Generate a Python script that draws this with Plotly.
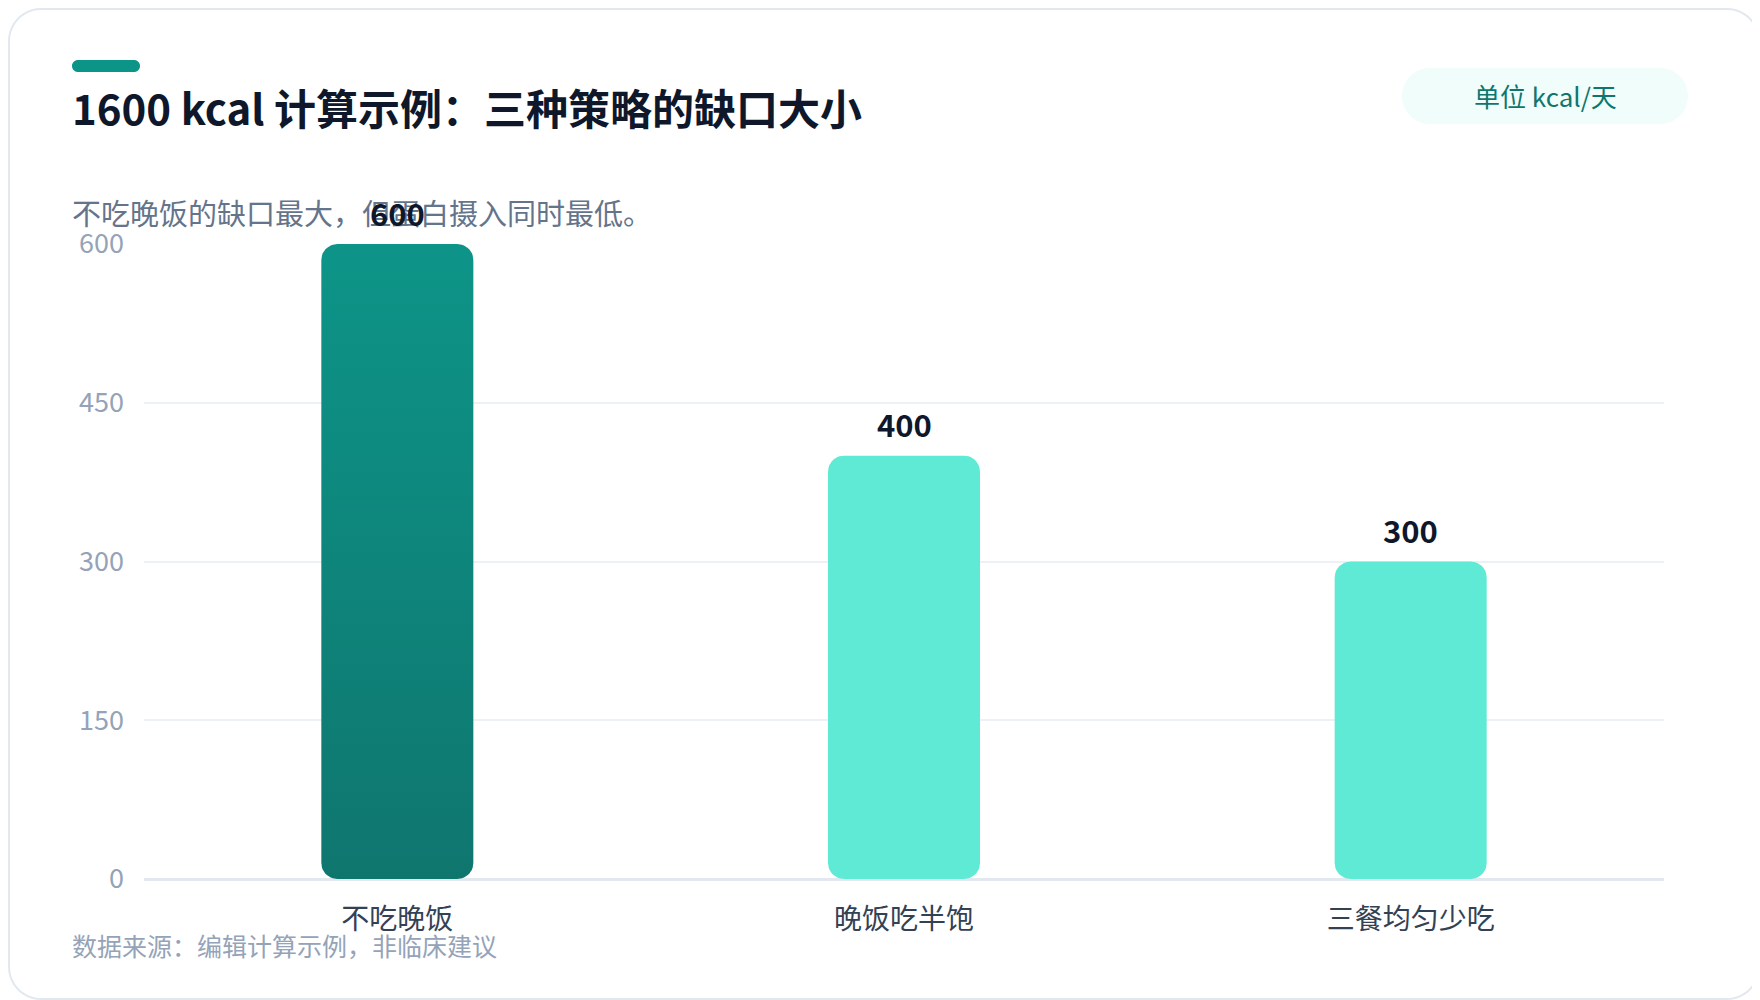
import numpy as np
import plotly.graph_objects as go

# data
categories = ["不吃晚饭", "晚饭吃半饱", "三餐均匀少吃"]
deficits = [600, 400, 300]
y_ticks = [0, 150, 300, 450, 600]

title = "1600 kcal 计算示例：三种策略的缺口大小"
subtitle = "不吃晚饭的缺口最大，但蛋白摄入同时最低。"
unit_label = "单位 kcal/天"
source = "数据来源：编辑计算示例，非临床建议"

FONT = "Noto Sans CJK SC"

# the page puts the figure 8px in from the top-left, so size it to fit
OFF = 8
W, H = 1760 - OFF, 1000 - OFF

# plot area, in page pixels
PL, PR, PT, PB = 144, 1664, 244, 879
PW = PR - PL
PH = PB - PT
M_L, M_T = PL - OFF, PT - OFF
M_R, M_B = W - (PR - OFF), H - (PB - OFF)

Y_MAX = 600
BAR_W = 0.3
BAR_R = 16


def px(x):
    return (x - PL) / PW


def py(y):
    return (PB - y) / PH


def round_rect_px(x0, y0, x1, y1, r, n=12):
    # rounded rectangle in page pixels -> paper path
    pts = []
    corners = [
        (x1 - r, y0 + r, -90, 0),
        (x1 - r, y1 - r, 0, 90),
        (x0 + r, y1 - r, 90, 180),
        (x0 + r, y0 + r, 180, 270),
    ]
    for cx, cy, a0, a1 in corners:
        for a in np.linspace(np.radians(a0), np.radians(a1), n):
            pts.append((cx + r * np.cos(a), cy + r * np.sin(a)))
    return "M " + " L ".join(f"{px(x):.5f},{py(y):.5f}" for x, y in pts) + " Z"


def bar_outline(xc, val, n=12):
    # rounded bar in data coords, corner radius given in pixels
    rx = BAR_R / PW * len(categories)
    ry = BAR_R / PH * Y_MAX
    x0, x1 = xc - BAR_W / 2, xc + BAR_W / 2
    corners = [
        (x1 - rx, val - ry, 0, 90),
        (x0 + rx, val - ry, 90, 180),
        (x0 + rx, ry, 180, 270),
        (x1 - rx, ry, 270, 360),
    ]
    xs, ys = [], []
    for cx, cy, a0, a1 in corners:
        for a in np.linspace(np.radians(a0), np.radians(a1), n):
            xs.append(cx + rx * np.cos(a))
            ys.append(cy + ry * np.sin(a))
    xs.append(xs[0])
    ys.append(ys[0])
    return xs, ys


fig = go.Figure()

for i, v in enumerate(deficits):
    xs, ys = bar_outline(i, v)
    if i == 0:
        fig.add_trace(go.Scatter(
            x=xs, y=ys, mode="lines", fill="toself", line=dict(width=0),
            fillgradient=dict(type="vertical",
                              colorscale=[[0, "#0f766e"], [1, "#0d9488"]]),
            hoverinfo="skip", showlegend=False,
        ))
    else:
        fig.add_trace(go.Scatter(
            x=xs, y=ys, mode="lines", fill="toself", line=dict(width=0),
            fillcolor="#5eead4", hoverinfo="skip", showlegend=False,
        ))

shapes = [
    # card
    dict(type="path", xref="paper", yref="paper",
         path=round_rect_px(OFF + 1, OFF + 1, 1759, 999, 32),
         line=dict(color="#e2e8f0", width=2), fillcolor="rgba(0,0,0,0)",
         layer="below"),
    # accent bar
    dict(type="path", xref="paper", yref="paper",
         path=round_rect_px(72, 60, 140, 72, 6),
         line=dict(width=0), fillcolor="#0d9488"),
    # unit pill
    dict(type="path", xref="paper", yref="paper",
         path=round_rect_px(1402, 68, 1688, 124, 28),
         line=dict(width=0), fillcolor="#f0fdfa", layer="below"),
]

annotations = [
    dict(text=title, x=px(70), y=py(106), xref="paper", yref="paper",
         xanchor="left", yanchor="middle", showarrow=False,
         font=dict(family=FONT, size=42, color="#0f172a", weight=700)),
    dict(text=subtitle, x=px(70), y=py(212), xref="paper", yref="paper",
         xanchor="left", yanchor="middle", showarrow=False,
         font=dict(family=FONT, size=29, color="#64748b")),
    dict(text=unit_label, x=px(1545), y=py(95), xref="paper", yref="paper",
         xanchor="center", yanchor="middle", showarrow=False,
         font=dict(family=FONT, size=26, color="#0f766e")),
    dict(text=source, x=px(70), y=py(945), xref="paper", yref="paper",
         xanchor="left", yanchor="middle", showarrow=False,
         font=dict(family=FONT, size=25, color="#94a3b8")),
]

# value labels above bars
for i, v in enumerate(deficits):
    annotations.append(dict(
        text=str(v), x=i, y=v, xref="x", yref="y", yshift=32,
        xanchor="center", yanchor="middle", showarrow=False,
        font=dict(family=FONT, size=31, color="#0f172a", weight=700),
    ))

fig.update_layout(
    width=W, height=H,
    margin=dict(l=M_L, r=M_R, t=M_T, b=M_B, pad=0),
    paper_bgcolor="white", plot_bgcolor="white",
    font=dict(family=FONT),
    shapes=shapes, annotations=annotations,
    showlegend=False,
)

fig.update_xaxes(
    range=[-0.5, len(categories) - 0.5],
    tickvals=list(range(len(categories))), ticktext=categories,
    showgrid=False, zeroline=False, showline=False, ticks="",
    ticklabelstandoff=21,
    tickfont=dict(family=FONT, size=28, color="#334155"),
)
fig.update_yaxes(
    range=[0, Y_MAX], tickvals=y_ticks,
    showgrid=True, gridcolor="#edf1f6", gridwidth=2,
    zeroline=True, zerolinecolor="#e2e8f0", zerolinewidth=3,
    showline=False, ticks="", ticklabelstandoff=19,
    tickfont=dict(family=FONT, size=27, color="#94a3b8"),
)

fig.write_html("out.html")
